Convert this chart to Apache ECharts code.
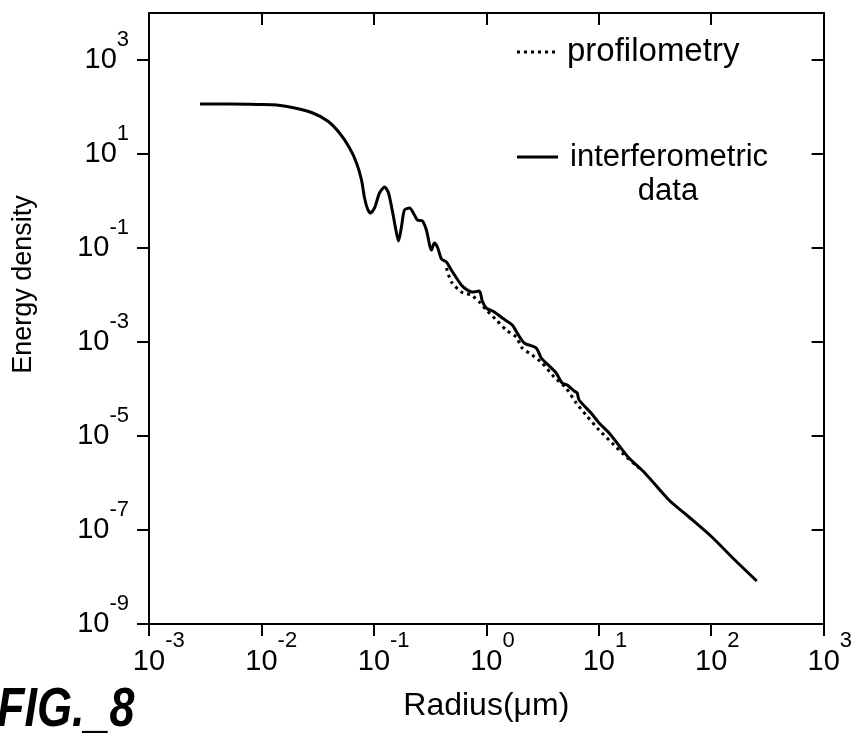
<!DOCTYPE html>
<html><head><meta charset="utf-8">
<script src="https://cdn.jsdelivr.net/npm/echarts@6/dist/echarts.min.js"></script>
<style>html,body{margin:0;padding:0;background:#fff}#c{width:855px;height:741px}</style>
</head><body><div id="c"></div>
<script>
// interferometric data (solid)
const interfRadius = [0.00284,0.00524,0.00966,0.0137,0.0198,0.0286,0.0388,0.0495,0.0608,0.0701,0.0776,0.0826,0.0879,0.0933,0.1014,0.1122,0.1245,0.1349,0.1466,0.1589,0.1656,0.1758,0.1871,0.2075,0.2296,0.2438,0.2704,0.2931,0.3251,0.3451,0.3673,0.3990,0.4416,0.4887,0.5998,0.6776,0.7516,0.8670,0.9204,1.000,1.178,1.387,1.702,1.884,2.173,2.780,3.076,3.404,4.178,4.721,5.236,6.039,6.427,6.683,8.551,10.07,12.36,14.55,18.58,25.23,42.07,63.39,101.4,158.9,254.1];
const interfEnergy = [116,116,113,110,95.3,74.5,50.4,28.0,13.4,6.44,2.80,1.16,0.676,0.556,0.710,1.479,1.986,1.479,0.583,0.2084,0.1409,0.280,0.644,0.710,0.5035,0.3945,0.3750,0.2415,0.0906,0.1276,0.1050,0.0583,0.0504,0.0340,0.01633,0.01276,0.01159,0.01216,0.00745,0.00528,0.00435,0.00324,0.00230,0.00155,0.000953,0.000745,0.000457,0.000357,0.000219,0.000134,0.0001216,0.0000906,0.0000822,0.0000583,0.0000308,0.0000189,0.0000116,0.0000071,3.40e-6,1.71e-6,4.35e-7,1.89e-7,7.10e-8,2.42e-8,8.22e-9];
// profilometry (dotted)
const profRadius = [0.4416,0.4887,0.5998,0.7362,0.8670,1.000,1.227,1.503,1.845,2.084,2.559,3.141,4.009,5.129,6.295,7.709,10.07,13.12,16.11,22.80];
const profEnergy = [0.0375,0.0189,0.01159,0.0100,0.00710,0.00480,0.00294,0.00180,0.00128,0.000745,0.000528,0.000357,0.000180,0.000105,0.0000504,0.0000280,0.0000134,0.0000071,4.35e-6,2.08e-6];
const yTickValues = [1e-9,1e-7,1e-5,1e-3,1e-1,1e1,1e3];
const xTickValues = [1e-3,1e-2,1e-1,1,1e1,1e2,1e3];
const seriesNames = ['profilometry','interferometric data'];
const legendLines = [['profilometry'],['interferometric','data']];
const xTitle = 'Radius(μm)';
const yTitle = 'Energy density';
const figLabel = 'FIG._8';

const FONT = '"Liberation Sans", Arial, Helvetica, sans-serif';
function pairs(xs, ys){ return xs.map((x,i)=>[x, ys[i]]); }
function expOf(v){ const e = Math.round(Math.log10(v)); return e < 0 ? '-' + (-e) : String(e); }
const base = {fontSize:29,fontFamily:FONT,color:'#000',lineHeight:46,verticalAlign:'bottom'};
const sup = {fontSize:22,fontFamily:FONT,color:'#000',verticalAlign:'top'};
const richY = {b:base, s:sup};
const richX = {p:Object.assign({}, sup, {color:'rgba(0,0,0,0)'}), b:base, s:sup};
const axisLine = {show:true,lineStyle:{color:'#000',width:2}};

const chart = echarts.init(document.getElementById('c'), null, {renderer:'canvas'});
chart.setOption({
  backgroundColor:'#fff',
  animation:false,
  grid:{left:149,right:30,top:13,bottom:117,containLabel:false},
  xAxis:[
    {type:'log',logBase:10,min:1e-3,max:1e3,position:'bottom',
     axisLine:axisLine,
     axisTick:{show:true,inside:false,length:12,lineStyle:{color:'#000',width:2},customValues:xTickValues},
     axisLabel:{show:true,margin:6,customValues:xTickValues,formatter:v=>'{p|'+expOf(v)+'}{b|10}{s|'+expOf(v)+'}',rich:richX},
     splitLine:{show:false},minorTick:{show:false},
     name:xTitle,nameLocation:'middle',nameGap:66,
     nameTextStyle:{fontSize:32,fontFamily:FONT,color:'#000'}},
    {type:'log',logBase:10,min:1e-3,max:1e3,position:'top',
     axisLine:axisLine,
     axisTick:{show:true,inside:true,length:12,lineStyle:{color:'#000',width:2},customValues:xTickValues},
     axisLabel:{show:false},splitLine:{show:false}}
  ],
  yAxis:[
    {type:'log',logBase:10,min:1e-9,max:1e4,position:'left',
     axisLine:axisLine,
     axisTick:{show:true,inside:false,length:12,lineStyle:{color:'#000',width:2},customValues:yTickValues},
     axisLabel:{show:true,margin:20,customValues:yTickValues,formatter:v=>'{b|10}{s|'+expOf(v)+'}',rich:richY,padding:[0,0,17,0]},
     splitLine:{show:false},
     name:yTitle,nameLocation:'middle',nameGap:112,nameRotate:90,
     nameTextStyle:{fontSize:27,fontFamily:FONT,color:'#000',padding:[0,0,0,68]}},
    {type:'log',logBase:10,min:1e-9,max:1e4,position:'right',
     axisLine:axisLine,
     axisTick:{show:true,inside:true,length:12,lineStyle:{color:'#000',width:2},customValues:yTickValues},
     axisLabel:{show:false},splitLine:{show:false}}
  ],
  series:[
    {name:seriesNames[0],type:'line',xAxisIndex:0,yAxisIndex:0,data:pairs(profRadius,profEnergy),
     showSymbol:false,symbol:'none',smooth:0.2,
     lineStyle:{color:'#000',width:3,type:[3,4],cap:'butt'},z:2},
    {name:seriesNames[1],type:'line',xAxisIndex:0,yAxisIndex:0,data:pairs(interfRadius,interfEnergy),
     showSymbol:false,symbol:'none',smooth:0.25,
     lineStyle:{color:'#000',width:3},z:3}
  ],
  graphic:[
    {type:'line',shape:{x1:517,y1:52,x2:558,y2:52},style:{stroke:'#000',lineWidth:3,lineDash:[3,4]}},
    {type:'text',x:567,y:52,style:{text:legendLines[0][0],font:'33px '+FONT,fill:'#000',verticalAlign:'middle'}},
    {type:'line',shape:{x1:517,y1:157,x2:558,y2:157},style:{stroke:'#000',lineWidth:3}},
    {type:'text',x:570,y:157,style:{text:legendLines[1][0],font:'31px '+FONT,fill:'#000',verticalAlign:'middle'}},
    {type:'text',x:668,y:191,style:{text:legendLines[1][1],font:'31px '+FONT,fill:'#000',align:'center',verticalAlign:'middle'}},
    {type:'text',x:-3,y:711,scaleX:0.9,scaleY:1.1,style:{text:figLabel,font:'italic bold 50px '+FONT,fill:'#000',verticalAlign:'middle'}}
  ]
});
</script></body></html>
